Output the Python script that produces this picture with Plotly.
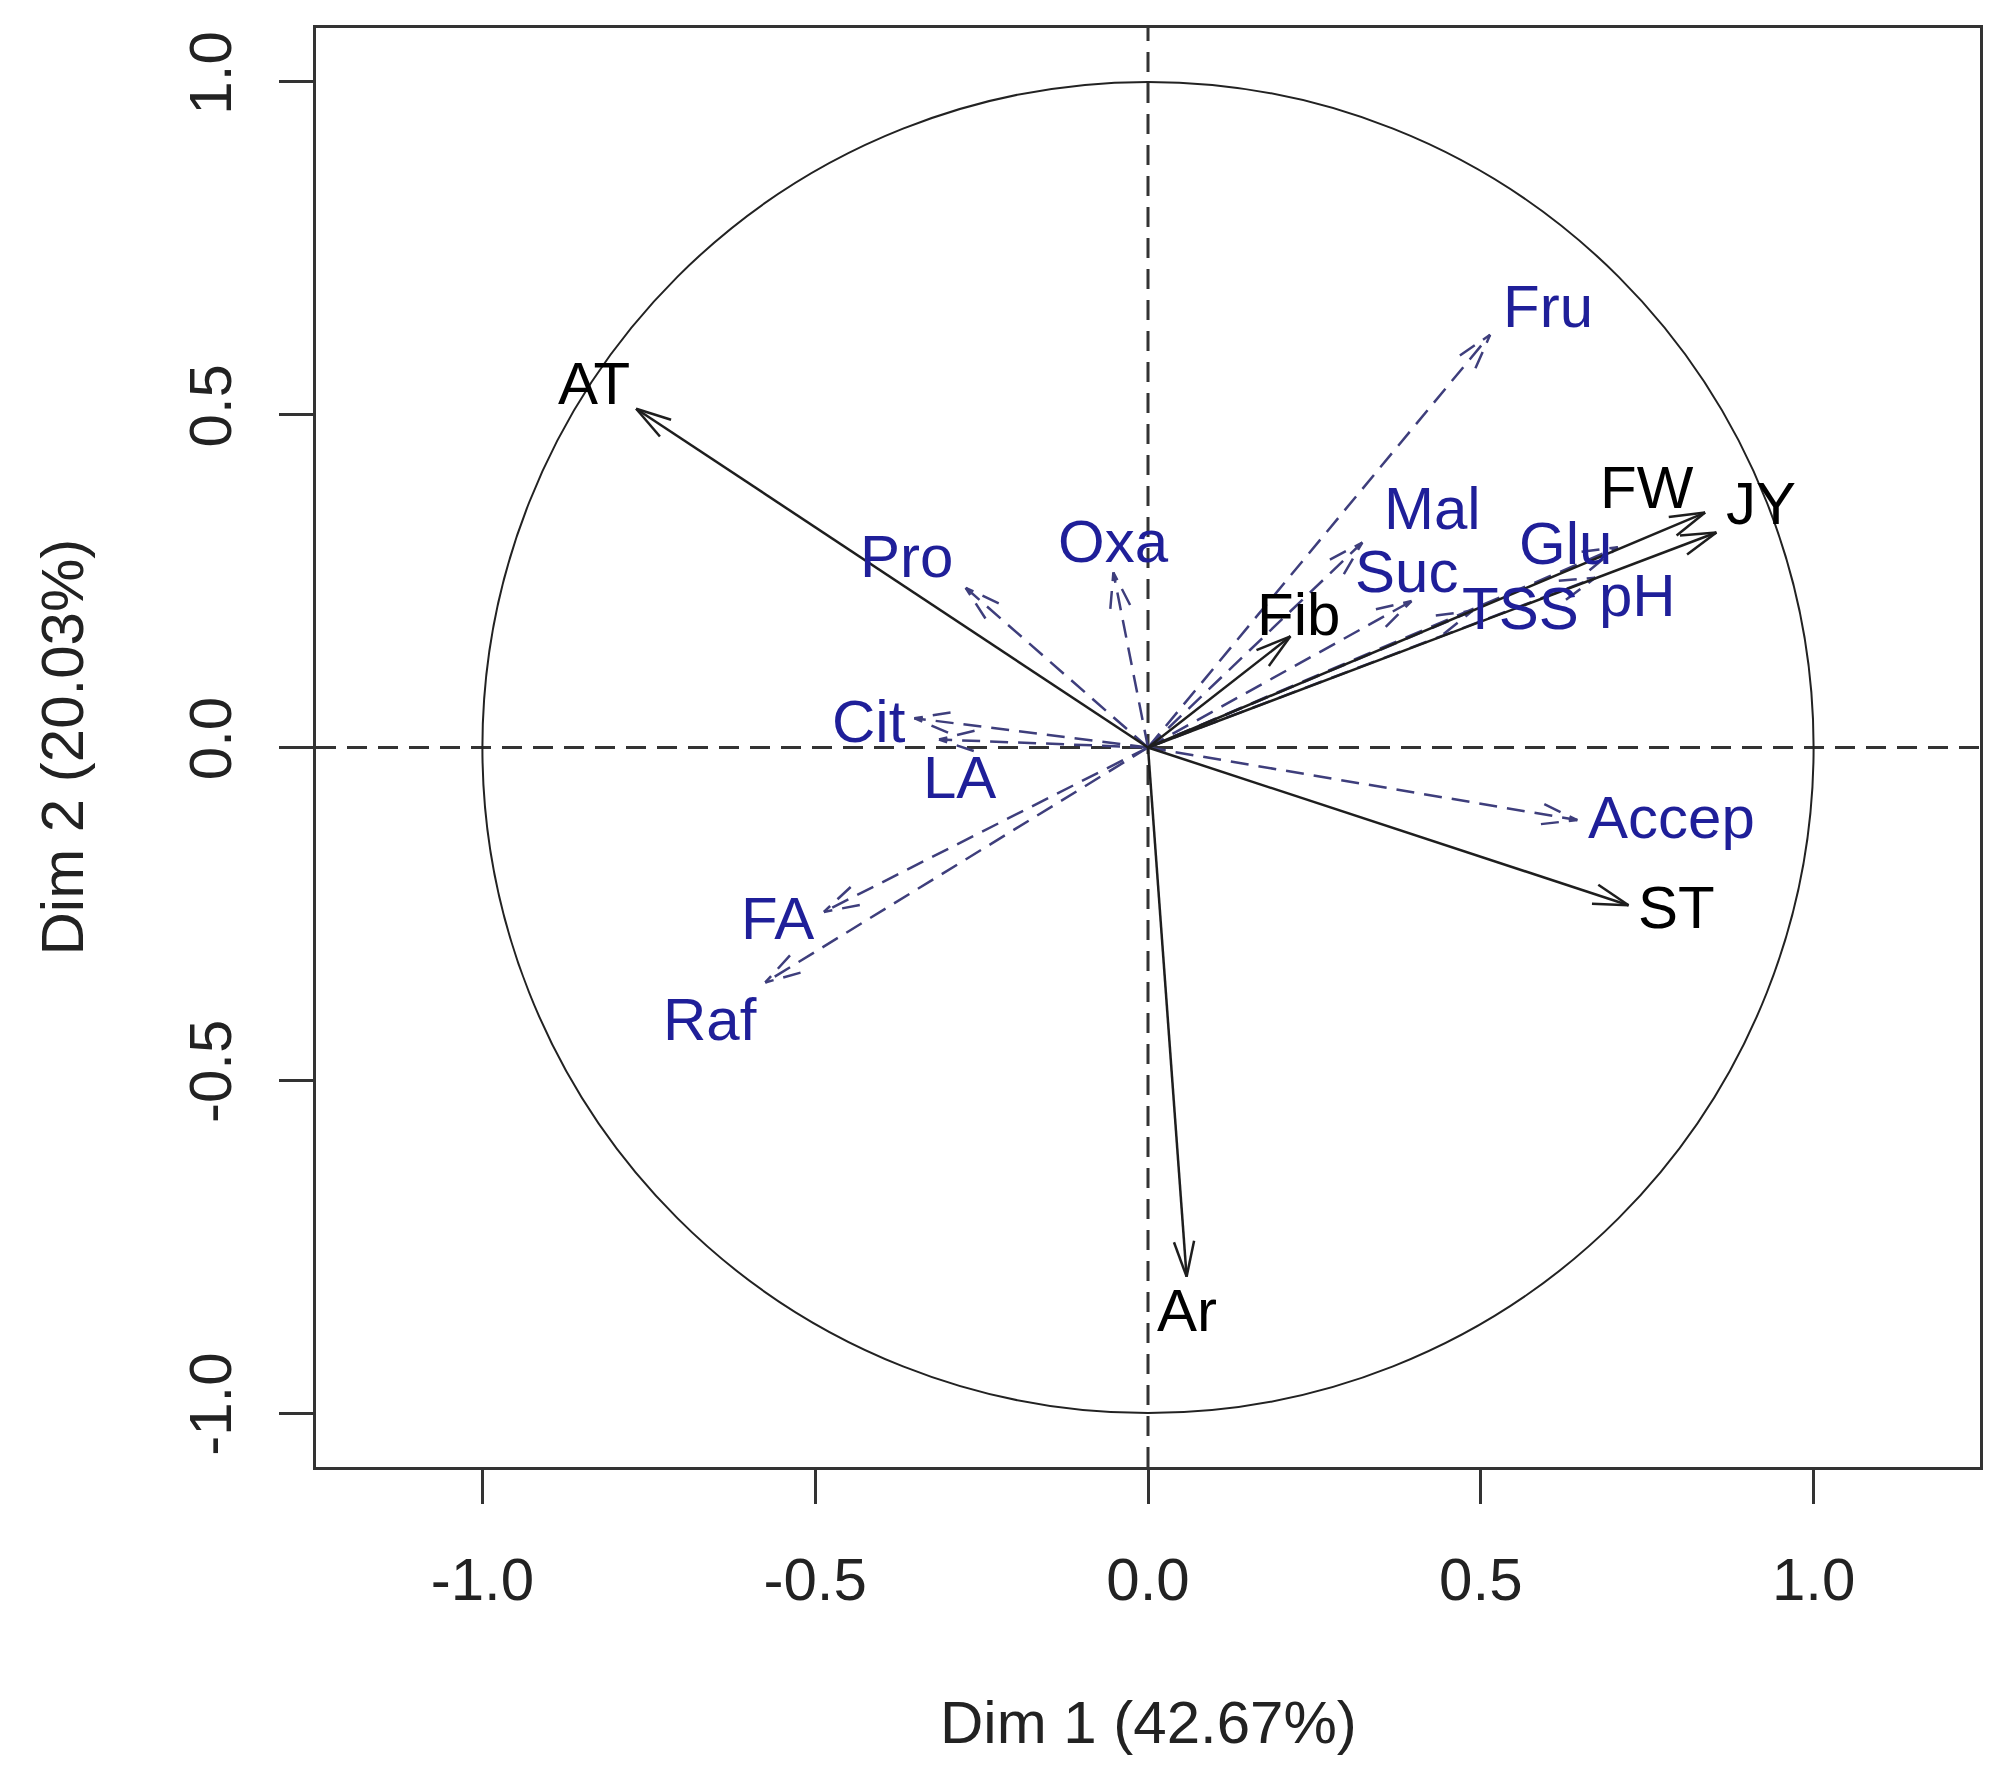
import numpy as np
import plotly.graph_objects as go

# Active variables (black solid arrows)
active_vars = ["AT", "FW", "JY", "Fib", "ST", "Ar"]
active_dim1 = [-0.769, 0.837, 0.854, 0.214, 0.722, 0.058]
active_dim2 = [0.509, 0.353, 0.323, 0.167, -0.237, -0.795]

# Supplementary variables (blue dashed arrows)
sup_vars = ["Fru", "Mal", "Suc", "Glu", "TSS", "pH", "Oxa", "Pro", "Cit", "LA", "FA", "Raf", "Accep"]
sup_dim1 = [0.514, 0.322, 0.396, 0.706, 0.487, 0.672, -0.052, -0.274, -0.351, -0.314, -0.487, -0.575, 0.645]
sup_dim2 = [0.620, 0.308, 0.220, 0.301, 0.205, 0.255, 0.263, 0.240, 0.044, 0.012, -0.247, -0.353, -0.109]

tick_vals = [-1.0, -0.5, 0.0, 0.5, 1.0]
tick_text = ["-1.0", "-0.5", "0.0", "0.5", "1.0"]
x_title = "Dim 1 (42.67%)"
y_title = "Dim 2 (20.03%)"

# label offsets from arrow tip, in pixels (right, down)
label_shift = {
    "AT": (-42, -25), "FW": (-58, -25), "JY": (45, -29), "Fib": (8, -22),
    "ST": (48, 2), "Ar": (0, 34),
    "Fru": (58, -28), "Mal": (70, -34), "Suc": (-5, -30), "Glu": (-52, -4),
    "TSS": (48, -3), "pH": (42, 18), "Oxa": (0, -31), "Pro": (-59, -31),
    "Cit": (-45, 3), "LA": (20, 38), "FA": (-46, 7), "Raf": (-55, 37),
    "Accep": (94, -3),
}

FONT = "Liberation Sans, Arial, sans-serif"
BLUE_TXT = "#1f1f99"
BLUE_LINE = "#3e3e7c"
HEAD_LEN = 0.055
HEAD_ANG = np.deg2rad(16)


def arrow_path(x, y):
    # shaft from origin plus an open R-style arrowhead
    th = np.arctan2(y, x)
    xs = [0, x, None]
    ys = [0, y, None]
    for s in (1, -1):
        a = th + np.pi + s * HEAD_ANG
        xs += [x + HEAD_LEN * np.cos(a), x, None]
        ys += [y + HEAD_LEN * np.sin(a), y, None]
    return xs, ys


fig = go.Figure()

for name, x, y in zip(sup_vars, sup_dim1, sup_dim2):
    xs, ys = arrow_path(x, y)
    fig.add_trace(go.Scatter(x=xs, y=ys, mode="lines", hoverinfo="skip",
                             line=dict(color=BLUE_LINE, width=2.5, dash="18px,10px")))

for name, x, y in zip(active_vars, active_dim1, active_dim2):
    xs, ys = arrow_path(x, y)
    fig.add_trace(go.Scatter(x=xs, y=ys, mode="lines", hoverinfo="skip",
                             line=dict(color="#1e1e1e", width=2.5)))

# labels
for names, d1, d2, col in ((active_vars, active_dim1, active_dim2, "black"),
                           (sup_vars, sup_dim1, sup_dim2, BLUE_TXT)):
    for name, x, y in zip(names, d1, d2):
        dx, dy = label_shift[name]
        fig.add_annotation(x=x, y=y, text=name, showarrow=False,
                           xshift=dx, yshift=-dy,
                           font=dict(family=FONT, size=60, color=col))

# unit circle and dashed axes
fig.add_shape(type="circle", xref="x", yref="y", x0=-1, y0=-1, x1=1, y1=1,
              line=dict(color="#222222", width=2), layer="below")
fig.add_shape(type="line", xref="x", yref="paper", x0=0, x1=0, y0=0, y1=1,
              line=dict(color="#333333", width=3, dash="20px,11px"), layer="below")
fig.add_shape(type="line", xref="paper", yref="y", x0=0, x1=1, y0=0, y1=0,
              line=dict(color="#333333", width=3, dash="20px,11px"), layer="below")

# axis titles
fig.add_annotation(xref="paper", yref="paper", x=0.5, y=0, yshift=-255,
                   xanchor="center", yanchor="middle",
                   text=x_title, showarrow=False,
                   font=dict(family=FONT, size=60, color="#222222"))
fig.add_annotation(xref="paper", yref="paper", x=0, y=0.5, xshift=-254,
                   xanchor="center", yanchor="middle",
                   text=y_title, showarrow=False, textangle=-90,
                   font=dict(family=FONT, size=60, color="#222222"))

axis_style = dict(showgrid=False, zeroline=False, showline=True, mirror=True,
                  linecolor="#333333", linewidth=3, ticks="outside", ticklen=34,
                  tickwidth=2.5, tickcolor="#333333", tickvals=tick_vals,
                  ticktext=tick_text, tickfont=dict(family=FONT, size=60, color="#222222"),
                  ticklabelstandoff=24)

fig.update_layout(
    width=1993, height=1776,
    margin=dict(l=308, r=21, t=20, b=317),
    paper_bgcolor="white", plot_bgcolor="white",
    showlegend=False,
    xaxis=dict(range=[-1.25, 1.25], **axis_style),
    yaxis=dict(range=[-1.081, 1.081], tickangle=-90, **axis_style),
)

fig.write_html("out.html")
